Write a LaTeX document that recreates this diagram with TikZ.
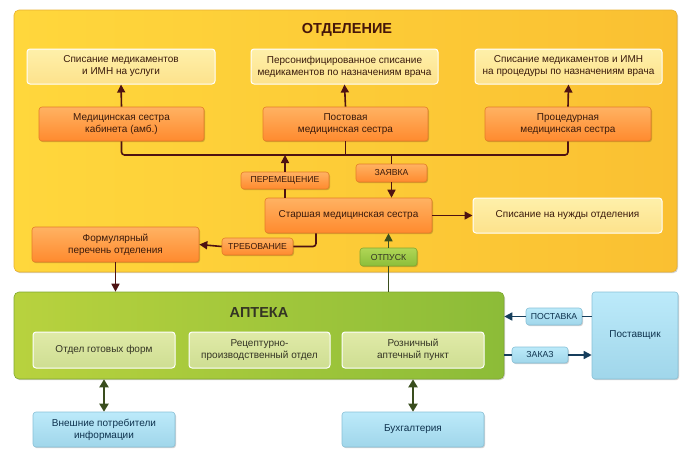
\documentclass[tikz,border=0pt]{standalone}
\usepackage{fontspec}
\setmainfont{Liberation Sans}
\usetikzlibrary{arrows.meta,shadows}
\definecolor{ylL}{RGB}{255,215,60}
\definecolor{ylR}{RGB}{250,192,50}
\definecolor{ylB}{RGB}{232,176,48}
\definecolor{orT}{RGB}{255,178,98}
\definecolor{orB}{RGB}{255,138,46}
\definecolor{orD}{RGB}{228,124,40}
\definecolor{ltT}{RGB}{254,240,170}
\definecolor{ltB}{RGB}{253,226,140}
\definecolor{grL}{RGB}{184,210,62}
\definecolor{grR}{RGB}{140,188,56}
\definecolor{grD}{RGB}{128,168,48}
\definecolor{giT}{RGB}{224,234,168}
\definecolor{giB}{RGB}{206,222,146}
\definecolor{gbT}{RGB}{176,214,86}
\definecolor{gbB}{RGB}{140,190,58}
\definecolor{blT}{RGB}{188,234,250}
\definecolor{blB}{RGB}{160,214,234}
\definecolor{blD}{RGB}{136,192,214}
\definecolor{txB}{RGB}{58,26,12}
\definecolor{txG}{RGB}{52,52,36}
\definecolor{txBl}{RGB}{14,50,78}
\definecolor{arB}{RGB}{78,18,18}
\definecolor{arG}{RGB}{58,78,30}
\definecolor{arBl}{RGB}{22,62,92}
\definecolor{ttl}{RGB}{70,22,10}
\tikzset{
  base/.style={rounded corners=3pt, align=center, inner sep=1pt,
    font=\fontsize{10}{12}\selectfont},
  shad/.style={drop shadow={shadow xshift=1pt, shadow yshift=-1.2pt, fill=black, opacity=0.18}},
  obox/.style={base, shad, draw=orD, line width=0.6pt, top color=orT, bottom color=orB, text=txB},
  lbox/.style={base, draw=white, line width=1pt, top color=ltT, bottom color=ltB, text=txB},
  gibox/.style={base, draw=white, line width=1pt, top color=giT, bottom color=giB, text=txG},
  bbox/.style={base, shad, draw=blD, line width=0.6pt, top color=blT, bottom color=blB, text=txBl},
  olab/.style={obox, font=\fontsize{8.7}{10}\selectfont},
  glab/.style={base, shad, draw=grD, line width=0.6pt, top color=gbT, bottom color=gbB, text=txG,
    font=\fontsize{8.7}{10}\selectfont},
  blab/.style={bbox, font=\fontsize{8.7}{10}\selectfont},
  panel/.style={rounded corners=5pt, inner sep=0pt, shad},
  arrB/.style={draw=arB, line width=1.6pt, -{Triangle[length=8pt,width=8pt]}},
  lineB/.style={draw=arB, line width=1.6pt},
  arrG/.style={draw=arG, line width=1.6pt, -{Triangle[length=8pt,width=8pt]}},
  arrGG/.style={draw=arG, line width=2.2pt, {Triangle[length=8pt,width=9pt]}-{Triangle[length=8pt,width=9pt]}},
  arrBl/.style={draw=arBl, line width=1.6pt, -{Triangle[length=8pt,width=8pt]}},
  lineBl/.style={draw=arBl, line width=1.6pt},
  ttlfont/.style={font=\fontsize{14.5}{16}\bfseries\selectfont},
}
\begin{document}
\begin{tikzpicture}[x=1pt,y=-1pt]
\useasboundingbox (0,0) rectangle (692,463);
% panels
\node[panel, draw=ylB, line width=0.6pt, left color=ylL, right color=ylR,
  minimum width=663pt, minimum height=262pt] (otd) at (345.5,141) {};
\node[ttlfont, text=ttl] (otdt) at (347,29.5) {ОТДЕЛЕНИЕ};
\node[panel, draw=grD, line width=0.6pt, left color=grL, right color=grR,
  minimum width=490pt, minimum height=87pt] (apt) at (259,335.5) {};
\node[ttlfont, text=txG] (aptt) at (259,312.5) {АПТЕКА};
% top light boxes
\node[lbox, minimum width=188pt, minimum height=35pt] (L1) at (121,66.5) {Списание медикаментов\\и ИМН на услуги};
\node[lbox, minimum width=187pt, minimum height=35pt] (L2) at (344.5,66.5) {Персонифицированное списание\\медикаментов по назначениям врача};
\node[lbox, minimum width=187pt, minimum height=35pt] (L3) at (568.5,66.5) {Списание медикаментов и ИМН\\на процедуры по назначениям врача};
% orange boxes
\node[obox, minimum width=165pt, minimum height=34pt] (O1) at (121.5,124) {Медицинская сестра\\кабинета (амб.)};
\node[obox, minimum width=165pt, minimum height=34pt] (O2) at (345.5,124) {Постовая\\медицинская сестра};
\node[obox, minimum width=166pt, minimum height=34pt] (O3) at (568,124) {Процедурная\\медицинская сестра};
\node[obox, minimum width=167pt, minimum height=35pt] (S) at (348.5,215.5) {Старшая медицинская сестра};
\node[lbox, minimum width=189pt, minimum height=35pt] (N) at (567.5,215.5) {Списание на нужды отделения};
\node[obox, minimum width=167pt, minimum height=35pt] (F) at (115.5,244.5) {Формулярный\\перечень отделения};
% labels
\node[olab, minimum width=88pt, minimum height=17pt] (P) at (285,180.5) {ПЕРЕМЕЩЕНИЕ};
\node[olab, minimum width=71pt, minimum height=18pt] (Z) at (391.5,173) {ЗАЯВКА};
\node[olab, minimum width=71pt, minimum height=17pt] (T) at (257.5,246.5) {ТРЕБОВАНИЕ};
\node[glab, minimum width=57pt, minimum height=18pt] (OT) at (388.5,257) {ОТПУСК};
% pharmacy inner
\node[gibox, minimum width=142pt, minimum height=36pt] (G1) at (104,350) {Отдел готовых форм};
\node[gibox, minimum width=141pt, minimum height=36pt] (G2) at (259.5,350) {Рецептурно-\\производственный отдел};
\node[gibox, minimum width=142pt, minimum height=36pt] (G3) at (413,350) {Розничный\\аптечный пункт};
% blue
\node[bbox, minimum width=86pt, minimum height=87pt] (PS) at (635,335.5) {Поставщик};
\node[blab, minimum width=56pt, minimum height=17pt] (PV) at (554,316.5) {ПОСТАВКА};
\node[blab, minimum width=56pt, minimum height=16pt] (ZK) at (540,355) {ЗАКАЗ};
\node[bbox, minimum width=142pt, minimum height=35pt] (V) at (104,429.5) {Внешние потребители\\информации};
\node[bbox, minimum width=142pt, minimum height=35pt] (B) at (413,429.5) {Бухгалтерия};
% coordinates
\coordinate (bar) at (0,155);
% connectors top
\draw[arrB] (O1.north) -- (L1.south);
\draw[arrB] (O2.north) -- (L2.south);
\draw[arrB] (O3.north) -- (L3.south);
\draw[lineB, rounded corners=3pt] (O1.south) |- (O3.south |- bar) -- (O3.south);
\draw[lineB] (O2.south) -- (O2.south |- bar);
\draw[lineB] (S.north -| P.south) -- (P.south);
\draw[arrB] (P.north) -- (P.north |- bar);
\draw[lineB] (Z.north |- bar) -- (Z.north);
\draw[arrB] (Z.south) -- (Z.south |- S.north);
\draw[arrB] (S.east) -- (N.west);
\coordinate (tq) at (316,0);
\draw[lineB, rounded corners=3pt] (S.south -| tq) |- (T.east);
\draw[arrB] (T.west) -- (F.east);
\draw[arrB] (F.south) -- (F.south |- apt.north);
\draw[arrG] (OT.north) -- (OT.north |- S.south);
\draw[draw=arG, line width=1.6pt] (OT.south |- apt.north) -- (OT.south);
% pharmacy connectors
\draw[lineBl] (PS.west |- PV.east) -- (PV.east);
\draw[arrBl] (PV.west) -- (PV.west -| apt.east);
\draw[lineBl] (ZK.west -| apt.east) -- (ZK.west);
\draw[arrBl] (ZK.east) -- (ZK.east -| PS.west);
\draw[arrGG] (V.north |- apt.south) -- (V.north);
\draw[arrGG] (B.north |- apt.south) -- (B.north);
\end{tikzpicture}
\end{document}
